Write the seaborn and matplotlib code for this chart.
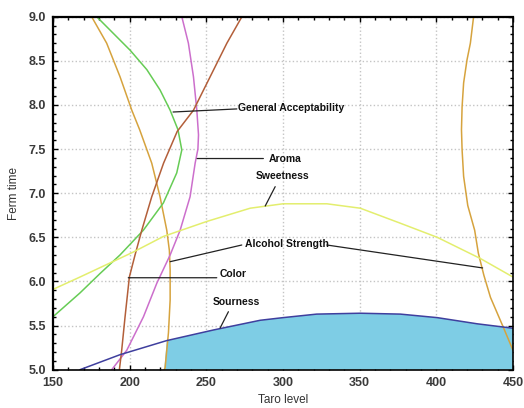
import matplotlib
matplotlib.use('Agg')
import matplotlib.pyplot as plt
import matplotlib.font_manager as fm
from matplotlib.ticker import MultipleLocator
import seaborn as sns

# contour lines (taro level, ferm time)
alcohol_left_x = [175.2, 185.0, 193.7, 201.4, 206.5, 214.4, 219.8, 224.2, 225.9, 226.4, 226.4, 225.3, 223.1, 222.5]
alcohol_left_y = [9.0, 8.70, 8.32, 7.94, 7.72, 7.34, 6.96, 6.58, 6.35, 6.13, 5.79, 5.42, 5.02, 5.0]
alcohol_right_x = [424.3, 422.2, 420.0, 417.8, 416.8, 416.4, 416.8, 417.8, 420.5, 425.0, 427.4, 431.0, 435.3, 443.7, 450.0]
alcohol_right_y = [9.0, 8.70, 8.51, 8.25, 7.98, 7.72, 7.49, 7.19, 6.86, 6.58, 6.32, 6.07, 5.82, 5.48, 5.22]
accept_x = [178.5, 189.4, 200.3, 211.2, 219.8, 226.4, 231.5, 234.0, 230.7, 222.0, 208.9, 193.7, 180.7, 167.6, 150.0]
accept_y = [9.0, 8.81, 8.62, 8.40, 8.17, 7.94, 7.72, 7.49, 7.23, 6.89, 6.58, 6.30, 6.09, 5.87, 5.60]
aroma_x = [234.0, 238.3, 241.6, 243.8, 244.9, 244.5, 242.7, 239.4, 232.9, 226.4, 217.7, 209.0, 198.1, 188.3]
aroma_y = [9.0, 8.70, 8.32, 7.94, 7.66, 7.50, 7.34, 6.96, 6.58, 6.30, 5.98, 5.60, 5.22, 5.0]
color_x = [273.2, 263.4, 252.5, 241.6, 231.0, 222.1, 214.4, 207.9, 203.5, 199.8, 197.0, 194.8, 193.3]
color_y = [9.0, 8.70, 8.32, 7.94, 7.70, 7.34, 6.96, 6.58, 6.30, 6.05, 5.60, 5.22, 5.0]
sweet_x = [150.0, 167.6, 202.0, 222.0, 250.3, 278.6, 300.0, 328.6, 350.4, 376.5, 400.6, 428.7, 450.0]
sweet_y = [5.91, 6.05, 6.33, 6.51, 6.68, 6.83, 6.88, 6.88, 6.83, 6.66, 6.50, 6.26, 6.05]
sour_x = [167.6, 193.7, 224.2, 254.6, 285.1, 300.0, 322.0, 350.4, 376.5, 400.6, 426.7, 450.0]
sour_y = [5.0, 5.17, 5.33, 5.45, 5.56, 5.59, 5.63, 5.64, 5.63, 5.59, 5.52, 5.47]

# label text, text anchor (left, centre), leader lines (start, end)
labels = [
    ("General Acceptability", (270.9, 7.97), [((269.9, 7.955), (228.3, 7.92))]),
    ("Aroma", (290.5, 7.385), [((287.2, 7.393), (244.0, 7.393))]),
    ("Sweetness", (282.5, 7.19), [((294.9, 7.074), (288.4, 6.855))]),
    ("Alcohol Strength", (275.3, 6.42), [((273.1, 6.413), (226.4, 6.224)),
                                         ((328.6, 6.413), (430.2, 6.153))]),
    ("Color", (258.5, 6.084), [((256.8, 6.042), (199.1, 6.042))]),
    ("Sourness", (254.2, 5.764), [((264.4, 5.657), (259.0, 5.473))]),
]

sns.set_theme(style="white")
plt.rcParams['font.family'] = ['Liberation Sans', 'DejaVu Sans']
names = {f.name for f in fm.fontManager.ttflist}
label_font = 'Liberation Sans Narrow' if 'Liberation Sans Narrow' in names else 'Liberation Sans'

fig = plt.figure(figsize=(5.24, 4.08), dpi=100)
ax = fig.add_axes([53 / 524, 1 - 369.7 / 408, 460 / 524, 353 / 408])

ymin = 5.0
fill_x = [alcohol_left_x[-1]] + sour_x[2:] + [sour_x[-1]]
fill_y = [ymin] + sour_y[2:] + [ymin]
ax.fill(fill_x, fill_y, color='#7ecde5', lw=0, zorder=1)

curves = [
    (alcohol_left_x, alcohol_left_y, '#d6a33e'),
    (alcohol_right_x, alcohol_right_y, '#d6a33e'),
    (accept_x, accept_y, '#66cc55'),
    (aroma_x, aroma_y, '#cc6fcc'),
    (color_x, color_y, '#b35f3a'),
    (sweet_x, sweet_y, '#e3ee6e'),
    (sour_x, sour_y, '#3f3f9e'),
]
for cx, cy, c in curves:
    sns.lineplot(x=cx, y=cy, sort=False, estimator=None, color=c, lw=1.1, ax=ax, zorder=3)

for text, pos, lines in labels:
    ax.text(pos[0], pos[1], text, ha='left', va='center', fontsize=7.5,
            fontweight='bold', family=label_font, color='#111111', zorder=5)
    for start, end in lines:
        ax.annotate('', xy=end, xytext=start,
                    arrowprops=dict(arrowstyle='-', color='#222222', lw=0.9,
                                    shrinkA=0, shrinkB=0), zorder=4)

ax.set_xlim(150, 450)
ax.set_ylim(5.0, 9.0)
ax.xaxis.set_major_locator(MultipleLocator(50))
ax.xaxis.set_minor_locator(MultipleLocator(10))
ax.yaxis.set_major_locator(MultipleLocator(0.5))
ax.yaxis.set_minor_locator(MultipleLocator(0.1))
ax.yaxis.set_major_formatter(plt.FormatStrFormatter('%.1f'))
ax.grid(True, which='major', color='#c4c4c4', linestyle=':', linewidth=1.0, zorder=0)
ax.set_axisbelow(True)
ax.tick_params(which='both', direction='in', top=True, right=True, bottom=True, left=True,
               color='black', width=1.0)
ax.tick_params(which='major', length=3.5, labelsize=9, labelcolor='#3a3a3a', pad=5)
ax.tick_params(which='minor', length=2.5)
for lab in ax.get_xticklabels() + ax.get_yticklabels():
    lab.set_fontweight('bold')
for side, sp in ax.spines.items():
    sp.set_color('black')
    sp.set_linewidth(1.6 if side in ('left', 'top') else 1.2)
    sp.set_zorder(6)

ax.set_xlabel('Taro level', fontsize=8.5, color='#333333', labelpad=4)
ax.set_ylabel('Ferm time', fontsize=8.5, color='#333333', labelpad=6)

fig.savefig('out.png', dpi=100)
plt.close(fig)
